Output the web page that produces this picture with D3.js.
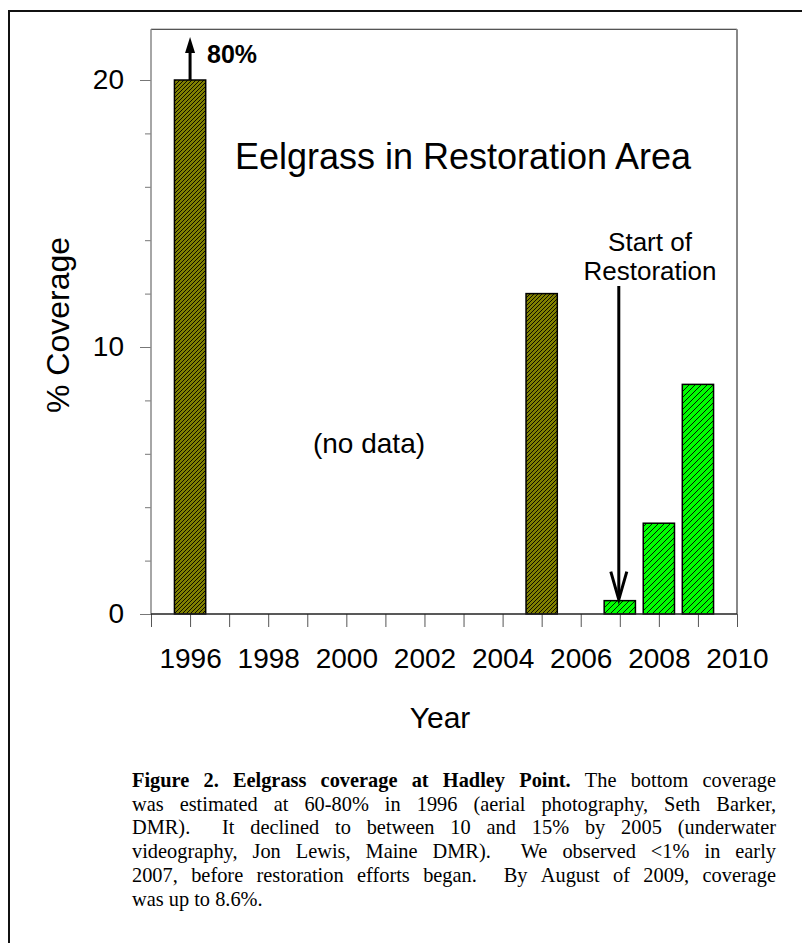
<!DOCTYPE html>
<html lang="en">
<head>
  <meta charset="UTF-8">
  <title>Eelgrass in Restoration Area</title>
  <style>body { margin: 0; background: #fff; }</style>
</head>
<body>
  <script src="https://d3js.org/d3.v7.min.js"></script>
  <div id="chart"></div>

  <script>
    // ---- data ----
    const years    = [1996, 2005, 2007, 2008, 2009]
    const coverage = [20, 12, 0.5, 3.4, 8.6]          // 1996 bar is capped at 20 (really 80%)
    const phase    = ['pre', 'pre', 'post', 'post', 'post']

    const yMajorTicks = [0, 10, 20]
    const yMinorTicks = [0, 2, 4, 6, 8, 10, 12, 14, 16, 18, 20]
    const xTicks      = [1995, 1996, 1997, 1998, 1999, 2000, 2001, 2002, 2003, 2004, 2005, 2006, 2007, 2008, 2009, 2010]
    const xLabels     = [1996, 1998, 2000, 2002, 2004, 2006, 2008, 2010]

    const captionLines = [
      [{ t: 'Figure 2. Eelgrass coverage at Hadley Point.', b: true }, { t: ' The bottom coverage', b: false }],
      [{ t: 'was estimated at 60-80% in 1996 (aerial photography, Seth Barker,', b: false }],
      [{ t: 'DMR).  It declined to between 10 and 15% by 2005 (underwater', b: false }],
      [{ t: 'videography, Jon Lewis, Maine DMR).  We observed <1% in early', b: false }],
      [{ t: '2007, before restoration efforts began.  By August of 2009, coverage', b: false }],
      [{ t: 'was up to 8.6%.', b: false }]
    ]

    const data = years.map((yr, i) => ({ year: yr, value: coverage[i], phase: phase[i] }))

    const svg = d3.select('#chart')
      .append('svg')
      .attr('width', 802)
      .attr('height', 943)
      .style('font-family', 'Liberation Sans, Arial, sans-serif')

    // outer box (runs off the right and bottom of the picture)
    svg.append('rect')
      .attr('x', 9).attr('y', 11)
      .attr('width', 830).attr('height', 980)
      .attr('fill', 'none')
      .attr('stroke', '#111')
      .attr('stroke-width', 2)

    const x = d3.scaleLinear().domain([1995, 2010]).range([151, 737])
    const y = d3.scaleLinear().domain([0, 20]).range([614, 80])
    const yTop = y(21.9)

    // hatch patterns
    const defs = svg.append('defs')
    function hatch(id, color, size) {
      const p = defs.append('pattern')
        .attr('id', id)
        .attr('patternUnits', 'userSpaceOnUse')
        .attr('width', size).attr('height', size)
      p.append('rect').attr('width', size).attr('height', size).attr('fill', color)
      p.append('path')
        .attr('d', `M-1,1 l2,-2 M0,${size} l${size},-${size} M${size - 1},${size + 1} l2,-2`)
        .attr('stroke', '#000')
        .attr('stroke-width', 0.9)
    }
    hatch('hatchPre', '#808000', 4)
    hatch('hatchPost', '#00ff00', 6)

    // frame top + right
    svg.append('line')
      .attr('x1', x(1995)).attr('x2', x(2010))
      .attr('y1', yTop).attr('y2', yTop)
      .attr('stroke', '#222').attr('stroke-width', 1)
    svg.append('line')
      .attr('x1', x(2010)).attr('x2', x(2010))
      .attr('y1', yTop).attr('y2', y(0))
      .attr('stroke', '#888').attr('stroke-width', 2)

    // y axis
    const yMinorG = svg.append('g')
      .attr('transform', `translate(${x(1995)},0)`)
      .call(d3.axisLeft(y).tickValues(yMinorTicks).tickSize(6).tickSizeOuter(0).tickFormat(''))
    yMinorG.select('.domain').remove()

    const yMajorG = svg.append('g')
      .attr('transform', `translate(${x(1995)},0)`)
      .call(d3.axisLeft(y).tickValues(yMajorTicks).tickSize(11).tickSizeOuter(0).tickPadding(16))
    yMajorG.select('.domain').remove()
    yMajorG.selectAll('text')
      .style('font-size', '28px')
      .style('font-family', 'Liberation Sans, Arial, sans-serif')
      .attr('fill', '#000')

    svg.selectAll('.tick line').attr('stroke', '#777')

    svg.append('line')
      .attr('x1', x(1995)).attr('x2', x(1995))
      .attr('y1', yTop).attr('y2', y(0))
      .attr('stroke', '#888').attr('stroke-width', 1.5)

    // x axis
    const xG = svg.append('g')
      .attr('transform', `translate(0,${y(0)})`)
      .call(d3.axisBottom(x).tickValues(xTicks).tickSize(13).tickSizeOuter(0).tickPadding(21)
        .tickFormat(d => xLabels.includes(d) ? d : ''))
    xG.select('.domain').remove()
    xG.selectAll('.tick line').attr('stroke', '#555')
    xG.selectAll('text')
      .style('font-size', '28px')
      .style('font-family', 'Liberation Sans, Arial, sans-serif')
      .attr('fill', '#000')

    // bars
    svg.selectAll('rect.bar')
      .data(data)
      .join('rect')
      .attr('class', 'bar')
      .attr('x', d => x(d.year - 0.4))
      .attr('width', d => x(d.year + 0.4) - x(d.year - 0.4))
      .attr('y', d => y(d.value))
      .attr('height', d => y(0) - y(d.value))
      .attr('fill', d => d.phase === 'pre' ? 'url(#hatchPre)' : 'url(#hatchPost)')
      .attr('stroke', '#000')
      .attr('stroke-width', 1.5)

    svg.append('line')
      .attr('x1', x(1995)).attr('x2', x(2010))
      .attr('y1', y(0)).attr('y2', y(0))
      .attr('stroke', '#222').attr('stroke-width', 1.5)

    // 80% arrow over the 1996 bar
    const ax = x(1996)
    svg.append('line')
      .attr('x1', ax).attr('x2', ax)
      .attr('y1', y(20)).attr('y2', 50)
      .attr('stroke', '#000').attr('stroke-width', 3)
    svg.append('path')
      .attr('d', `M${ax},37 L${ax - 5},53 L${ax + 5},53 Z`)
      .attr('fill', '#000')
    svg.append('text')
      .attr('x', 207).attr('y', 63)
      .style('font-size', '25px').style('font-weight', 'bold')
      .text('80%')

    // start of restoration arrow
    const sx = x(2007) - 1
    const tipY = y(0.5) - 1
    svg.append('line')
      .attr('x1', sx).attr('x2', sx)
      .attr('y1', 286).attr('y2', tipY - 2)
      .attr('stroke', '#000').attr('stroke-width', 3)
    svg.append('path')
      .attr('d', `M${sx - 8},${tipY - 28} L${sx},${tipY} L${sx + 8},${tipY - 28}`)
      .attr('fill', 'none')
      .attr('stroke', '#000').attr('stroke-width', 3)

    svg.append('text')
      .attr('x', 650).attr('y', 251)
      .attr('text-anchor', 'middle')
      .style('font-size', '26px')
      .text('Start of')
    svg.append('text')
      .attr('x', 650).attr('y', 280)
      .attr('text-anchor', 'middle')
      .style('font-size', '26px')
      .text('Restoration')

    // titles
    svg.append('text')
      .attr('x', 463).attr('y', 169)
      .attr('text-anchor', 'middle')
      .style('font-size', '36px')
      .text('Eelgrass in Restoration Area')

    svg.append('text')
      .attr('x', 369).attr('y', 453)
      .attr('text-anchor', 'middle')
      .style('font-size', '28px')
      .text('(no data)')

    svg.append('text')
      .attr('transform', 'translate(69,325) rotate(-90)')
      .attr('text-anchor', 'middle')
      .style('font-size', '32px')
      .text('% Coverage')

    svg.append('text')
      .attr('x', 440).attr('y', 728)
      .attr('text-anchor', 'middle')
      .style('font-size', '30px')
      .text('Year')

    // caption, justified by hand (each space widened equally, so double spaces stay wider)
    const capLeft = 132, capRight = 776, capTop = 787, capStep = 23.7
    const capSX = 0.97, capSize = 21

    captionLines.forEach((line, li) => {
      const g = svg.append('g')
        .attr('transform', `translate(${capLeft},${capTop + li * capStep}) scale(${capSX},1)`)
        .style('font-family', 'Liberation Serif, Times New Roman, serif')
        .style('font-size', capSize + 'px')

      const words = []
      line.forEach(seg => {
        const re = /(\s*)(\S+)/g
        let m
        while ((m = re.exec(seg.t)) !== null) {
          words.push({ t: m[2], b: seg.b, sp: words.length ? Math.max(m[1].length, 1) : 0 })
        }
      })
      const nodes = words.map(w => g.append('text')
        .attr('y', 0)
        .style('font-weight', w.b ? 'bold' : 'normal')
        .text(w.t))
      const widths = nodes.map(n => n.node().getComputedTextLength())
      const spaces = d3.sum(words, w => w.sp)
      const avail = (capRight - capLeft) / capSX
      const last = li === captionLines.length - 1
      const unit = last ? capSize * 0.25 : (avail - d3.sum(widths)) / spaces
      let cx = 0
      nodes.forEach((n, i) => {
        cx += words[i].sp * unit
        n.attr('x', cx)
        cx += widths[i]
      })
    })
  </script>
</body>
</html>
